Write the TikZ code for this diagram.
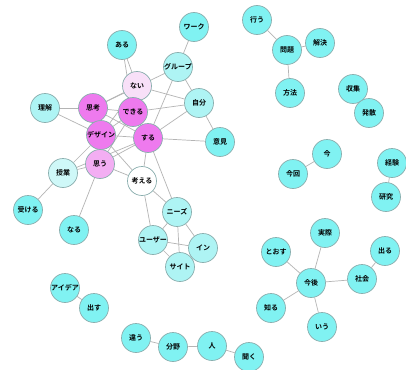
\documentclass[tikz,border=0pt]{standalone}
\usepackage{fontspec}
\setmainfont{Noto Sans CJK JP}[BoldFont={Noto Sans CJK JP Bold}]
\usetikzlibrary{backgrounds}
\definecolor{cA}{HTML}{80F2F2}
\definecolor{cB}{HTML}{AEF4F4}
\definecolor{cC}{HTML}{CFF8F8}
\definecolor{pA}{HTML}{EE7AEE}
\definecolor{pB}{HTML}{F3AEF3}
\definecolor{pC}{HTML}{F8E0F8}
\definecolor{edgec}{HTML}{B4B4B4}
\definecolor{bord}{HTML}{8AAEAE}
\tikzset{
  wnode/.style={circle,draw=bord,line width=0.7pt,minimum size=29pt,inner sep=0pt,
    font=\fontsize{7}{8}\selectfont\bfseries},
  na/.style={wnode,fill=cA},
  nb/.style={wnode,fill=cB},
  nc/.style={wnode,fill=cC},
  pa/.style={wnode,fill=pA},
  pb/.style={wnode,fill=pB},
  pc/.style={wnode,fill=pC},
  pw/.style={wnode,fill=white},
  lk/.style={draw=edgec,line width=0.7pt}
}
\begin{document}
\begin{tikzpicture}[x=1pt,y=-1pt]
\useasboundingbox (0,0) rectangle (406,369);
% main cluster
\node[na] (wak) at (194,27) {ワーク};
\node[na] (aru) at (122,45) {ある};
\node[nb] (grp) at (178,67) {グループ};
\node[pc] (nai) at (137,86) {ない};
\node[nb] (jib) at (199,103) {自分};
\node[nb] (rik) at (45,108) {理解};
\node[pa] (shi) at (93,108) {思考};
\node[pa] (dek) at (133,112) {できる};
\node[pa] (des) at (101,135) {デザイン};
\node[pa] (suru) at (148,138) {する};
\node[na] (iken) at (220,142) {意見};
\node[nc] (jug) at (63,173) {授業};
\node[pb] (omo) at (100,164) {思う};
\node[pw] (kan) at (142,181) {考える};
\node[na] (uke) at (28,210) {受ける};
\node[na] (naru) at (74,230) {なる};
\node[nb] (nee) at (177,212) {ニーズ};
\node[nb] (user) at (153,240) {ユーザー};
\node[nb] (in) at (203,248) {イン};
\node[nb] (site) at (180,267) {サイト};
% other clusters
\node[na] (idea) at (65,288) {アイデア};
\node[na] (dasu) at (94,308) {出す};
\node[na] (chi) at (136,338) {違う};
\node[na] (bun) at (173,347) {分野};
\node[na] (hito) at (212,346) {人};
\node[na] (kik) at (249,357) {聞く};
\node[na] (oko) at (257,20) {行う};
\node[na] (mon) at (287,50) {問題};
\node[na] (kai) at (320,43) {解決};
\node[na] (hoh) at (290,93) {方法};
\node[na] (shu) at (353,89) {収集};
\node[na] (has) at (369,113) {発散};
\node[na] (ima) at (327,154) {今};
\node[na] (kon) at (293,174) {今回};
\node[na] (kei) at (392,163) {経験};
\node[na] (ken) at (386,197) {研究};
\node[na] (jis) at (325,233) {実際};
\node[na] (too) at (276,252) {とおす};
\node[na] (kong) at (311,283) {今後};
\node[na] (sha) at (362,279) {社会};
\node[na] (der) at (385,251) {出る};
\node[na] (shir) at (271,308) {知る};
\node[na] (iu) at (322,327) {いう};
\begin{scope}[on background layer]
\fill[white] (0,0) rectangle (406,369);
\foreach \a/\b in {wak/grp,aru/nai,aru/dek,grp/jib,grp/shi,grp/suru,nai/jib,nai/shi,nai/des,
  jib/suru,jib/iken,jib/dek,rik/shi,rik/des,shi/dek,shi/des,shi/suru,dek/des,dek/suru,dek/omo,
  des/suru,des/omo,des/jug,des/kan,suru/iken,suru/omo,suru/kan,suru/nee,omo/jug,omo/kan,
  omo/naru,jug/uke,jug/suru,kan/user,kan/nee,nee/user,nee/in,nee/site,user/in,user/site,
  idea/dasu,chi/bun,bun/hito,hito/kik,mon/oko,mon/kai,mon/hoh,shu/has,ima/kon,kei/ken,
  kong/jis,kong/too,kong/sha,kong/shir,kong/iu,sha/der}
  \draw[lk] (\a) -- (\b);
\end{scope}
\end{tikzpicture}
\end{document}
